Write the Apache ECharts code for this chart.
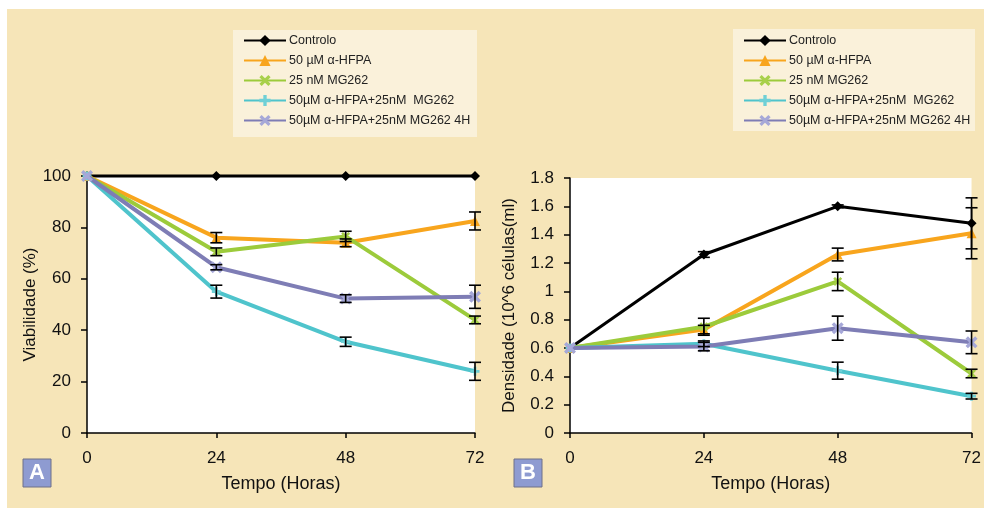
<!DOCTYPE html>
<html><head><meta charset="utf-8">
<script src="https://cdn.jsdelivr.net/npm/echarts@6/dist/echarts.min.js"></script>
<style>html,body{margin:0;padding:0;background:#fff}#c{width:984px;height:508px}</style>
</head><body><div id="c"></div>
<script>
const hours = [0, 24, 48, 72];
const seriesNames = ['Controlo', '50 µM α-HFPA', '25 nM MG262', '50µM α-HFPA+25nM  MG262', '50µM α-HFPA+25nM MG262 4H'];
const xTickLabels = ['0', '24', '48', '72'];

// Panel A: Viabilidade (%)
const viabControlo = [100, 100, 100, 100];
const viabHFPA     = [100, 76, 74, 82.5];
const viabMG       = [100, 70.5, 76.5, 44];
const viabCombo    = [100, 55, 35.5, 24];
const viabCombo4h  = [100, 64.5, 52.3, 53];
const errViabControlo = [0, 0, 0, 0];
const errViabHFPA     = [0, 2, 1.5, 3.5];
const errViabMG       = [0, 1.5, 2, 1.5];
const errViabCombo    = [0, 2.5, 1.8, 3.5];
const errViabCombo4h  = [0, 1, 1.5, 4.5];

// Panel B: Densidade (10^6 células/ml)
const densControlo = [0.6, 1.26, 1.6, 1.48];
const densHFPA     = [0.6, 0.73, 1.26, 1.41];
const densMG       = [0.6, 0.75, 1.07, 0.42];
const densCombo    = [0.6, 0.63, 0.44, 0.26];
const densCombo4h  = [0.6, 0.61, 0.74, 0.64];
const errDensControlo = [0, 0.02, 0.01, 0.18];
const errDensHFPA     = [0, 0.03, 0.045, 0.18];
const errDensMG       = [0, 0.06, 0.065, 0.03];
const errDensCombo    = [0, 0.02, 0.06, 0.02];
const errDensCombo4h  = [0, 0.03, 0.085, 0.08];

const colors = ['#000000', '#F8A51D', '#9CCB3B', '#4FC4CC', '#7E7DB5'];
const markerColors = ['#000000', '#F8A51D', '#A8D04A', '#6FD0D6', '#A6A8D8'];
const xPath = 'path://M0,2 L2,0 L5,3 L8,0 L10,2 L7,5 L10,8 L8,10 L5,7 L2,10 L0,8 L3,5 Z';
const plusPath = 'path://M3.5,0 H6.5 V3.5 H10 V6.5 H6.5 V10 H3.5 V6.5 H0 V3.5 H3.5 Z';
const symbols = ['diamond', 'triangle', xPath, plusPath, xPath];
const symbolSizes = [10, 10, 9, 9, 12];
const lineWidths = [3, 4, 4, 4, 4];

const FONT = "'Liberation Sans', Arial, sans-serif";
const NARROW = "'Liberation Sans Narrow', 'Arial Narrow', 'Liberation Sans', sans-serif";

const chart = echarts.init(document.getElementById('c'), null, {renderer: 'canvas'});

function errRender(params, api) {
  const x = api.value(0), lo = api.value(1), hi = api.value(2);
  if (hi === lo) return null;
  const a = api.coord([x, hi]), b = api.coord([x, lo]);
  const w = 6;
  const st = {stroke: '#000', lineWidth: 1.6};
  return {type: 'group', children: [
    {type: 'line', shape: {x1: a[0], y1: a[1], x2: b[0], y2: b[1]}, style: st},
    {type: 'line', shape: {x1: a[0] - w, y1: a[1], x2: a[0] + w, y2: a[1]}, style: st},
    {type: 'line', shape: {x1: b[0] - w, y1: b[1], x2: b[0] + w, y2: b[1]}, style: st}
  ]};
}

function makeSeries(panel, valuesList, errList) {
  const out = [];
  valuesList.forEach((vals, i) => {
    out.push({
      name: seriesNames[i], type: 'line', xAxisIndex: panel, yAxisIndex: panel,
      data: hours.map((h, k) => [h, vals[k]]),
      symbol: symbols[i], symbolSize: symbolSizes[i], showSymbol: true, clip: false,
      lineStyle: {color: colors[i], width: lineWidths[i]},
      itemStyle: {color: markerColors[i]},
      z: 2 + i, animation: false
    });
  });
  errList.forEach((errs, i) => {
    const vals = valuesList[i];
    out.push({
      type: 'custom', xAxisIndex: panel, yAxisIndex: panel, clip: false,
      renderItem: errRender, z: 20, silent: true, animation: false,
      data: hours.map((h, k) => [h, vals[k] - errs[k], vals[k] + errs[k]])
    });
  });
  return out;
}

function xAxisCfg(idx) {
  return {
    gridIndex: idx, type: 'value', min: 0, max: 72, interval: 24,
    name: 'Tempo (Horas)', nameLocation: 'middle', nameGap: 42,
    nameTextStyle: {fontFamily: NARROW, fontSize: 18, color: '#111'},
    axisLine: {lineStyle: {color: '#000', width: 1.5}},
    axisTick: {show: true, length: 5, lineStyle: {color: '#000', width: 1.5}},
    axisLabel: {margin: 17, fontFamily: NARROW, fontSize: 17, color: '#111',
      formatter: v => xTickLabels[hours.indexOf(v)] ?? ''},
    splitLine: {show: false}
  };
}

function yAxisCfg(idx, opts) {
  return Object.assign({
    gridIndex: idx, type: 'value', nameLocation: 'middle',
    nameTextStyle: {fontFamily: FONT, fontSize: 17, color: '#111'},
    axisLine: {show: true, lineStyle: {color: '#000', width: 1.5}},
    axisTick: {show: true, length: 6, lineStyle: {color: '#000', width: 1.5}},
    axisLabel: {margin: 16, fontFamily: FONT, fontSize: 17, color: '#111'},
    splitLine: {show: false}
  }, opts);
}

function legendCfg(left) {
  return {
    orient: 'vertical', left: left, top: 34, padding: 0,
    itemWidth: 42, itemHeight: 14, itemGap: 7,
    textStyle: {fontFamily: FONT, fontSize: 12.5, color: '#222', padding: [0, 0, 0, -2]},
    data: seriesNames, selectedMode: false
  };
}

const option = {
  backgroundColor: '#ffffff',
  animation: false,
  graphic: [
    {type: 'rect', shape: {x: 7, y: 9, width: 977, height: 499}, style: {fill: '#F6E5B8'}, z: -10},
    {type: 'rect', shape: {x: 233, y: 30, width: 244, height: 107}, style: {fill: '#FAF1DA'}, z: -9},
    {type: 'rect', shape: {x: 733, y: 29, width: 242, height: 102}, style: {fill: '#FAF1DA'}, z: -9},
    {type: 'rect', shape: {x: 23, y: 459, width: 28, height: 28}, style: {fill: '#8E9BD1', stroke: '#6E7088', lineWidth: 1}, z: 5},
    {type: 'text', x: 37, y: 473, style: {text: 'A', fill: '#fff', font: "bold 22px 'Liberation Sans Narrow', 'Liberation Sans', sans-serif", align: 'center', verticalAlign: 'middle'}, z: 6},
    {type: 'rect', shape: {x: 514, y: 459, width: 28, height: 28}, style: {fill: '#8E9BD1', stroke: '#6E7088', lineWidth: 1}, z: 5},
    {type: 'text', x: 528, y: 473, style: {text: 'B', fill: '#fff', font: "bold 22px 'Liberation Sans Narrow', 'Liberation Sans', sans-serif", align: 'center', verticalAlign: 'middle'}, z: 6}
  ],
  legend: [legendCfg(243), legendCfg(743)],
  grid: [
    {left: 87, top: 176, width: 388, height: 257, show: true, backgroundColor: '#fff', borderWidth: 0},
    {left: 570, top: 178, width: 403, height: 255, show: true, backgroundColor: '#fff', borderWidth: 0}
  ],
  xAxis: [xAxisCfg(0), xAxisCfg(1)],
  yAxis: [
    yAxisCfg(0, {min: 0, max: 100, interval: 20, name: 'Viabilidade (%)', nameGap: 48}),
    yAxisCfg(1, {min: 0, max: 1.8, interval: 0.2, name: 'Densidade (10^6 células(ml)', nameGap: 52,
      axisLabel: {margin: 16, fontFamily: FONT, fontSize: 17, color: '#111', formatter: v => String(+v.toFixed(1))}})
  ],
  series: [].concat(
    makeSeries(0, [viabControlo, viabHFPA, viabMG, viabCombo, viabCombo4h],
                  [errViabControlo, errViabHFPA, errViabMG, errViabCombo, errViabCombo4h]),
    makeSeries(1, [densControlo, densHFPA, densMG, densCombo, densCombo4h],
                  [errDensControlo, errDensHFPA, errDensMG, errDensCombo, errDensCombo4h])
  )
};
chart.setOption(option);
</script></body></html>
